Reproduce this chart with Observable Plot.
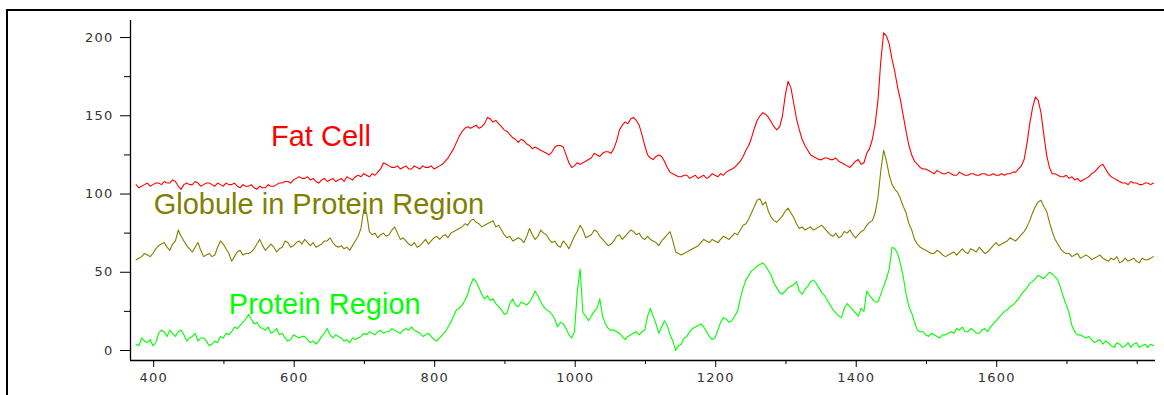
<!DOCTYPE html>
<html><head><meta charset="utf-8">
<script src="https://cdn.jsdelivr.net/npm/d3@7"></script>
<script src="https://cdn.jsdelivr.net/npm/@observablehq/plot@0.6"></script>
<style>
html,body{margin:0;padding:0;background:#fff;overflow:hidden;}
#wrap{position:relative;width:1164px;height:395px;overflow:hidden;}
#border{position:absolute;left:6px;top:9px;width:1300px;height:500px;border-top:2px solid #000;border-left:2px solid #000;pointer-events:none;}
#chart svg{display:block;}
g[aria-label$="tick label"] text{letter-spacing:1.2px;}
</style></head><body>
<div id="wrap"><div id="chart"></div><div id="border"></div></div>
<script>
// Raman shift grid (cm^-1), sampled every 4 units
const wavenumber = d3.range(375, 1824, 4);

const seriesNames = ["Fat Cell", "Globule in Protein Region", "Protein Region"];
const seriesColors = ["#ff0000", "#808000", "#00ff00"];

const fatCell = [
106,104,105,106,107,105,106,107,107,106,108,107,107,109,108,105,103,106,107,106,
106,108,107,105,106,107,107,106,105,107,106,105,107,106,106,107,105,104,106,105,
105,106,104,103,105,104,104,106,105,105,106,107,107,108,108,107,109,110,111,110,
110,111,109,110,108,107,109,110,108,109,110,108,109,110,108,111,110,109,111,112,
111,113,112,111,113,112,114,116,120,119,118,117,117,118,116,117,118,116,116,118,
117,116,118,117,117,118,116,117,118,119,121,123,126,129,133,137,140,142,143,142,
143,144,142,143,145,149,148,146,147,145,143,141,140,138,136,135,133,135,134,132,
131,129,130,129,128,127,126,125,127,130,131,131,130,125,120,117,118,120,119,120,
121,122,123,126,125,124,126,127,127,126,129,134,141,144,146,145,148,149,147,144,
138,131,125,123,122,124,125,124,121,117,114,113,112,111,111,112,112,110,111,112,
110,111,112,110,111,113,112,111,113,112,114,115,116,117,119,121,124,128,131,136,
142,147,150,152,151,149,146,143,141,143,150,163,172,168,158,148,141,135,131,128,
125,124,123,122,122,123,123,122,122,123,121,120,119,118,117,119,121,122,119,120,
126,129,135,145,160,185,203,201,196,186,178,168,160,150,140,131,125,121,119,117,
116,116,115,114,113,115,114,113,113,114,113,112,112,114,113,112,112,113,113,112,
112,113,113,112,112,113,112,112,113,112,113,113,114,114,116,118,122,132,145,155,
162,160,152,138,125,117,113,113,112,111,111,112,110,111,109,110,108,109,110,111,
113,114,116,118,119,116,113,111,110,109,108,107,107,106,108,107,107,106,106,107,
107,106,107];

const globule = [
58,59,60,62,61,60,62,65,67,68,69,66,64,68,70,77,73,70,67,65,
63,66,69,64,60,61,62,60,61,66,70,68,65,62,57,60,63,64,61,62,
62,63,65,68,71,67,64,66,68,66,63,65,66,70,69,66,67,69,70,68,
71,69,67,69,66,67,68,70,70,72,69,67,66,67,65,66,64,67,70,73,
78,90,88,76,74,75,72,74,75,73,74,77,79,75,71,72,70,68,67,69,
66,67,69,71,68,70,72,73,71,73,74,72,75,76,77,78,79,81,80,83,
84,82,81,79,80,81,82,83,79,80,77,74,72,73,70,71,72,71,69,73,
78,74,71,73,77,75,74,71,69,70,67,66,70,68,65,69,73,76,80,77,
72,73,74,77,76,73,71,69,67,68,70,73,74,71,73,75,77,76,74,75,
72,71,73,71,70,69,67,70,72,74,76,70,63,62,61,62,63,64,65,66,
67,69,71,70,69,71,70,69,71,73,72,71,73,75,74,77,80,81,84,88,
92,96,97,93,95,89,85,83,82,84,86,89,91,88,85,81,78,79,77,78,
79,77,78,79,80,78,76,74,73,75,72,73,76,75,77,74,72,74,76,77,
80,82,83,88,98,115,128,121,112,106,103,101,97,92,88,81,77,71,68,66,
65,64,63,62,62,64,63,61,60,61,62,63,61,63,65,63,62,65,64,63,
66,64,62,63,65,67,69,67,68,69,70,72,71,70,72,74,76,79,83,88,
92,95,96,92,89,82,76,71,68,65,63,62,62,60,61,62,59,60,61,60,
58,59,60,61,59,58,57,59,58,60,56,57,59,57,58,59,57,56,59,58,
58,59,60];

const protein = [
4,3,8,6,5,7,3,5,11,13,12,9,13,11,9,12,13,10,6,8,
9,11,6,8,8,6,3,4,6,5,9,8,11,10,12,15,14,16,18,20,
23,20,17,18,15,14,13,15,11,12,14,10,11,8,6,7,10,9,8,9,
9,7,5,6,4,6,9,11,14,10,8,10,9,8,6,7,5,8,7,8,
9,11,10,12,11,10,12,13,11,12,12,14,13,12,11,13,14,13,15,13,
12,11,9,10,11,9,7,6,8,10,12,15,18,22,26,27,29,32,36,42,
46,44,40,36,33,35,32,33,30,28,26,23,24,30,33,29,28,31,30,29,
31,34,38,35,31,28,26,25,23,20,15,18,17,14,10,8,12,38,52,24,
22,19,22,25,27,33,22,17,14,13,13,12,11,9,7,9,10,11,12,10,
12,13,22,27,22,17,11,15,19,16,10,6,0,3,4,8,9,12,14,15,
16,17,15,12,9,7,8,13,18,21,20,18,19,22,25,33,40,45,48,51,
52,54,55,56,54,51,48,43,40,37,36,38,40,41,42,44,38,36,39,41,
44,45,43,40,37,35,32,29,26,24,22,21,27,30,28,26,24,22,27,25,
38,35,33,31,31,36,41,46,52,66,65,62,55,47,36,28,24,18,13,12,
12,10,9,11,10,9,8,10,10,11,12,11,14,13,15,12,12,14,13,11,
11,13,14,12,15,17,19,21,23,25,26,28,29,31,33,36,38,40,43,44,
46,48,47,46,48,50,49,47,45,40,34,29,24,16,12,10,10,9,8,9,
7,5,6,7,4,6,5,3,2,5,4,2,3,5,2,4,5,2,3,4,
2,4,3];

const yMajorTicks = [0, 50, 100, 150, 200];
const yMinorTicks = [25, 75, 125, 175];
const xMajorTicks = [400, 600, 800, 1000, 1200, 1400, 1600];
const xMinorTicks = [500, 700, 900, 1100, 1300, 1500, 1700, 1800];

const allValues = [fatCell, globule, protein];
const data = seriesNames.flatMap((name, s) =>
  wavenumber.map((w, i) => ({w, v: allValues[s][i], name})));

// label anchors in data units
const labelPos = [
  {name: "Fat Cell", x: 567, y: 130.5},
  {name: "Globule in Protein Region", x: 400, y: 87.3},
  {name: "Protein Region", x: 507, y: 23}
];

const xDomain = [367, 1826];
const yDomain = [-6.4, 210.9];
const fmt = d => String(d);

const chart = Plot.plot({
  width: 1164, height: 395,
  marginLeft: 130, marginRight: 9, marginTop: 20, marginBottom: 35,
  x: {domain: xDomain},
  y: {domain: yDomain},
  color: {domain: seriesNames, range: seriesColors},
  style: {fontFamily: "DejaVu Sans", fontSize: "13px", color: "#222", background: "transparent"},
  marks: [
    Plot.ruleX([xDomain[0]], {stroke: "#000", strokeWidth: 1.3}),
    Plot.ruleY([yDomain[0]], {stroke: "#000", strokeWidth: 1.3}),
    Plot.axisY(yMajorTicks, {tickSize: 10, tickPadding: 7, label: null, stroke: "#000", fill: "#333", fontSize: 13, tickFormat: fmt}),
    Plot.axisY(yMinorTicks, {tickSize: 6, tickFormat: () => "", label: null, stroke: "#000"}),
    Plot.axisX(xMajorTicks, {tickSize: 7, tickPadding: 5, label: null, stroke: "#000", fill: "#333", fontSize: 13, tickFormat: fmt}),
    Plot.axisX(xMinorTicks, {tickSize: 4, tickFormat: () => "", label: null, stroke: "#000"}),
    Plot.line(data, {x: "w", y: "v", z: "name", stroke: "name", strokeWidth: 1.1}),
    Plot.text(labelPos, {x: "x", y: "y", text: "name", fill: "name",
      textAnchor: "start", lineAnchor: "bottom", fontSize: 29, fontFamily: "Liberation Sans"})
  ]
});
document.getElementById("chart").append(chart);
</script></body></html>
